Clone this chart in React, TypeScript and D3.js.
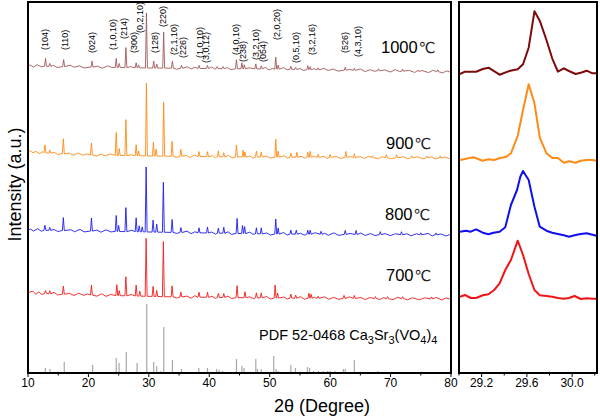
import React from "react";
import * as d3 from "d3";

// ---------- data ----------
const mainDomain = [10, 80];
const zoomDomain = [29.0, 30.22];
const mainTicks = [10, 20, 30, 40, 50, 60, 70, 80];
const mainMinor = [15, 25, 35, 45, 55, 65, 75];
const zoomTicks = [29.2, 29.6, 30.0];
const zoomMinor = [29.0, 29.4, 29.8, 30.2];

// baselines (2θ, intensity a.u.)
const base1000: [number, number][] = [[10, 307], [30, 305], [50, 304], [80, 301]];
const base900: [number, number][] = [[10, 221], [20, 218], [30, 217], [45, 216], [80, 215]];
const base800: [number, number][] = [[10, 143], [30, 141], [50, 139], [80, 138]];
const base700: [number, number][] = [[10, 80], [20, 78], [35, 76], [50, 75], [80, 74]];

// peaks (2θ, height above baseline)
const peaks1000: [number, number][] = [[12.9, 8], [13.6, 3], [15.9, 7], [20.6, 6], [24.6, 9], [25.1, 4], [26.2, 20], [27.9, 5], [28.3, 3], [29.6, 55], [30.8, 7], [31.3, 4], [32.45, 36], [33.9, 7], [35.4, 3], [38.3, 3], [39.7, 3], [41.3, 2], [42.3, 2], [44.5, 9], [45.4, 6], [45.8, 4], [47.7, 5], [48.6, 3], [51.0, 12], [51.4, 4], [53.5, 3], [54.3, 2], [56.3, 4], [56.7, 3], [58.0, 2], [62.5, 3], [64.0, 2], [68.0, 2], [72.0, 2], [74.5, 1.5], [77.8, 2]];
const peaks900: [number, number][] = [[12.8, 8], [13.6, 3], [15.85, 15], [20.5, 12], [24.6, 23], [25.1, 7], [26.2, 36], [27.9, 11], [28.3, 5], [29.6, 73], [30.75, 14], [31.2, 7], [32.45, 54], [33.85, 15], [35.3, 7], [38.3, 5], [39.7, 5], [41.5, 6], [42.4, 4], [44.5, 12], [45.6, 7], [45.9, 5], [47.8, 6], [48.6, 5], [51.0, 18], [51.4, 6], [53.5, 4], [54.5, 5], [56.3, 5], [56.7, 6], [58.0, 3], [60.0, 3], [62.6, 6], [64.0, 4], [67.0, 2], [69.3, 3], [71.0, 3], [73.5, 2], [76.0, 2], [78.2, 2]];
const peaks800: [number, number][] = [[12.8, 5], [13.6, 3], [15.85, 13], [20.5, 13], [24.6, 16], [25.0, 6], [26.2, 24], [27.9, 14], [28.4, 6], [28.9, 5], [29.55, 65], [30.7, 12], [31.3, 8], [32.4, 50], [33.85, 13], [35.3, 5], [38.3, 5], [39.7, 6], [41.5, 5], [42.4, 6], [44.6, 15], [45.5, 8], [45.85, 7], [47.8, 6], [48.6, 6], [51.0, 15], [51.4, 6], [53.5, 4], [54.4, 4], [56.3, 4], [56.7, 4], [58.5, 3], [62.5, 4], [64.3, 4], [68.3, 3], [71.8, 3], [75.0, 2], [77.5, 2]];
const peaks700: [number, number][] = [[12.9, 3], [13.6, 3], [15.85, 8], [20.5, 10], [24.7, 11], [25.1, 5], [26.2, 19], [27.9, 11], [28.5, 5], [29.55, 58], [30.7, 10], [31.3, 6], [32.4, 55], [33.85, 11], [35.3, 5], [38.3, 5], [39.7, 5], [41.5, 4], [42.4, 4], [44.6, 12], [45.9, 6], [47.8, 5], [48.6, 5], [50.9, 13], [51.3, 5], [53.5, 4], [54.3, 3], [56.5, 5], [56.85, 4], [58.0, 2], [62.3, 3], [64.0, 3], [67.5, 2], [69.5, 2], [72.0, 2], [76.8, 2]];

// small noise wiggles (2θ, deviation)
const noise1000: [number, number][] = [[10.4, 1], [10.9, -1], [11.5, 1.5], [12.2, -0.5], [14.2, 1], [14.8, -1], [17.0, 1.5], [17.6, -0.5], [18.5, 1], [19.3, -1], [21.5, 1], [22.3, -1], [23.2, 1.5], [23.8, 0], [27.0, 1], [34.6, -1], [36.4, 1.5], [37.0, -0.5], [37.6, 1], [40.4, 1.5], [40.9, -0.5], [43.0, 1], [43.6, -1], [46.6, 1], [49.3, 1.5], [49.9, -1], [50.4, 0.5], [52.3, 1.5], [52.9, -0.5], [55.0, 1], [55.6, -1], [57.3, 1], [59.0, 1.5], [59.7, -0.5], [60.5, 1], [61.3, -1], [63.2, 1], [65.0, 1.5], [65.8, -1], [66.6, 1], [67.3, -0.5], [69.0, 1], [70.0, -1], [70.8, 1.5], [71.5, -0.5], [73.0, 1], [74.0, -1], [75.2, 1], [76.3, -1], [77.0, 1.5], [78.6, -1], [79.3, 1], [79.8, 0]];
const noise900: [number, number][] = [[10.3, 1.5], [10.8, -0.5], [11.3, 1], [11.9, -1], [12.4, 1], [14.3, 1], [14.9, -1], [16.8, 1], [17.5, -1], [18.3, 1.5], [19.1, -0.5], [19.7, 1], [21.3, -1], [22.0, 1], [22.8, -0.5], [23.6, 1.5], [27.1, 1], [34.5, -1], [36.2, 1], [36.9, -1], [37.5, 1.5], [40.6, 1], [41.0, -1], [43.2, 1.5], [43.8, -1], [46.7, 1], [47.2, -1], [49.4, 1], [50.2, -1], [52.4, 1.5], [53.0, -1], [55.2, 1], [55.8, -1], [57.4, 1], [59.0, 1], [59.5, -1], [61.0, 1], [61.7, -1], [63.3, 1], [65.0, 1], [65.7, -1], [66.4, 1.5], [68.0, -1], [68.6, 1], [70.1, -1], [72.2, 1], [72.8, -1], [74.5, 1], [75.3, -1], [76.8, 1], [77.4, -1], [79.0, 1], [79.6, -0.5]];
const noise800: [number, number][] = [[10.4, 1], [10.9, -1], [11.6, 1.5], [12.2, -1], [14.3, 1], [14.9, -1], [17.1, 1], [17.7, -1], [18.6, 1.5], [19.3, -1], [21.4, 1], [22.1, -1], [22.9, 1.5], [23.7, -0.5], [27.2, 1.5], [34.6, -1], [36.3, 1.5], [37.0, -1], [37.6, 1], [40.4, 1], [41.0, -1], [43.1, 1.5], [43.7, -1], [46.7, 1.5], [47.2, -0.5], [49.5, 1], [50.1, -1], [52.3, 1.5], [52.9, -1], [55.1, 1], [55.7, -1], [57.5, 1.5], [59.1, 1], [59.7, -1], [60.6, 1.5], [61.4, -1], [63.3, 1], [65.1, 1.5], [65.8, -1], [66.7, 1], [67.4, -1], [69.1, 1], [70.0, -1], [70.8, 1], [72.7, 1], [73.4, -1], [74.3, 1], [76.2, 1.5], [76.9, -1], [78.3, 1], [79.2, -1], [79.8, 0.5]];
const noise700: [number, number][] = [[10.3, 1], [10.8, 2], [11.3, -1], [11.8, 1.5], [12.3, -1], [14.3, 1.5], [14.9, -1], [16.9, 1], [17.6, -1], [18.4, 1.5], [19.2, -0.5], [19.8, 1], [21.4, -1], [22.2, 1.5], [22.9, -1], [23.7, 1], [27.1, 1.5], [34.6, -1], [36.3, 1], [37.0, -1], [37.6, 1.5], [40.5, 1], [41.0, -1], [43.1, 1.5], [43.7, -1], [46.7, 1], [47.3, -1], [49.5, 1.5], [50.1, -1], [52.3, 1], [52.9, -1], [55.1, 1.5], [55.7, -1], [57.4, 1], [59.1, 1.5], [59.8, -1], [60.6, 1], [61.4, -1], [63.2, 1.5], [65.1, 1], [65.8, -1], [66.6, 1], [68.2, -1], [68.8, 1], [70.4, -1], [71.2, 1.5], [72.8, -1], [73.6, 1], [74.8, -1], [75.6, 1], [77.6, 1.5], [78.4, -1], [79.2, 1], [79.8, 0]];

// reference PDF 52-0468 stick pattern (2θ, relative height)
const pdfLines: [number, number][] = [[12.87, 5], [13.64, 4], [16.0, 11], [20.7, 8], [24.6, 15], [25.07, 10], [26.27, 21], [28.05, 10], [29.65, 69], [30.8, 11], [31.3, 7], [32.0, 2], [32.47, 46], [33.9, 13], [35.4, 4], [38.26, 5], [39.7, 5], [41.2, 4], [41.6, 3], [42.2, 2], [44.5, 14], [45.4, 7], [45.76, 5], [47.7, 14], [47.96, 4], [48.6, 4], [50.67, 17], [51.06, 4], [51.4, 2], [53.5, 8], [54.26, 5], [56.25, 6], [56.6, 5], [57.24, 2], [58.06, 2], [58.9, 2], [59.6, 2], [60.0, 2], [60.8, 2], [62.2, 4], [62.5, 4], [64.0, 13], [67.9, 2], [69.5, 1]];

// zoomed region 29.0–30.22°
const zoom1000: [number, number][] = [[29.009, 299], [29.053, 301.3], [29.151, 301.3], [29.21, 304], [29.261, 305.3], [29.359, 298.3], [29.453, 302.3], [29.519, 303.7], [29.566, 308.7], [29.616, 325.3], [29.667, 361.7], [29.714, 352.3], [29.773, 333], [29.824, 314.7], [29.874, 301.3], [29.927, 304.7], [29.972, 302], [30.031, 299], [30.076, 300.3], [30.129, 302.3], [30.18, 299.7], [30.224, 299.7]];
const zoom900: [number, number][] = [[29.009, 213], [29.062, 214.3], [29.127, 215.7], [29.21, 212.3], [29.261, 213.7], [29.311, 213], [29.364, 215], [29.418, 216.3], [29.459, 219.7], [29.519, 237], [29.566, 263], [29.616, 288.7], [29.667, 269.7], [29.714, 235.7], [29.773, 219.7], [29.824, 215], [29.874, 215], [29.927, 210.3], [29.972, 211.7], [30.031, 210.3], [30.076, 212.3], [30.129, 213], [30.18, 213], [30.224, 212.3]];
const zoom800: [number, number][] = [[29.009, 141.3], [29.062, 142.3], [29.104, 141.3], [29.151, 143.7], [29.21, 140.3], [29.261, 138.7], [29.305, 140.3], [29.359, 141.3], [29.409, 145.7], [29.459, 168], [29.513, 183], [29.542, 196.3], [29.566, 202], [29.616, 193], [29.667, 166.3], [29.714, 146.3], [29.773, 142.3], [29.824, 140.3], [29.874, 139], [29.927, 137.7], [29.972, 136.3], [30.031, 138], [30.076, 139], [30.129, 139.7], [30.18, 138.3], [30.224, 137]];
const zoom700: [number, number][] = [[29.009, 76.3], [29.053, 78], [29.104, 75], [29.151, 75], [29.21, 77.7], [29.261, 78.7], [29.311, 83], [29.359, 89.7], [29.409, 103], [29.459, 113], [29.519, 132.3], [29.566, 118], [29.616, 99], [29.667, 83], [29.714, 77.7], [29.773, 77], [29.824, 76.3], [29.874, 75], [29.927, 74.3], [29.972, 75], [30.022, 77], [30.076, 74], [30.129, 74.7], [30.18, 74.3], [30.224, 74.3]];

const tempLabels = ["1000℃", "900℃", "800℃", "700℃"];

// Miller index annotations on the 1000 ℃ pattern: text, 2θ, label foot (a.u.)
const hklText = ["(104)", "(110)", "(024)", "(1,0,10)", "(214)", "(300)", "(0,2,10)", "(128)", "(220)", "(2,1,10)", "(226)", "(1,0,10)", "(3,0,12)", "(4,0,10)", "(238)", "(3,2,10)", "(054)", "(2,0,20)", "(0,5,10)", "(3,2,16)", "(526)", "(4,3,10)"];
const hklAt = [12.81, 16.12, 20.54, 24.12, 25.89, 27.54, 28.53, 31.02, 32.39, 34.16, 35.7, 38.46, 39.4, 44.42, 45.66, 47.73, 48.94, 51.25, 54.35, 56.95, 62.46, 64.56];
const hklFoot = [323, 323, 320, 323, 334, 320, 340, 320, 346, 318, 315, 315, 310, 318, 311, 313, 311, 333, 310, 318, 320, 316];

// ---------- layout ----------
const W = 600, H = 417;
const FONT = "'Liberation Sans', Arial, sans-serif";
const mL = 28, mR = 451, zL = 459, zR = 597, top = 2, bottom = 373;

const xMain = d3.scaleLinear().domain(mainDomain).range([mL, mR]);
const xZoom = d3.scaleLinear().domain(zoomDomain).range([zL, zR]);
const y = d3.scaleLinear().domain([0, 371]).range([bottom, top]);

const HW = 0.16;
function pattern(base: [number, number][], peaks: [number, number][], noise: [number, number][]) {
  const level = d3.scaleLinear().domain(base.map(d => d[0])).range(base.map(d => d[1]));
  const pts: [number, number][] = [[10, level(10)], [80, level(80)]];
  noise.forEach(([d, v]) => {
    if (!peaks.some(p => Math.abs(p[0] - d) < HW + 0.08)) pts.push([d, level(d) + v]);
  });
  peaks.forEach(([d, h]) => {
    pts.push([d - HW, level(d - HW)]);
    pts.push([d, level(d) + h]);
    pts.push([d + HW, level(d + HW)]);
  });
  pts.sort((a, b) => a[0] - b[0]);
  return d3.line<[number, number]>().x(d => xMain(d[0])).y(d => y(d[1]))(pts) || "";
}
const zoomLine = d3.line<[number, number]>().x(d => xZoom(d[0])).y(d => y(d[1]));

const series = [
  { base: base1000, peaks: peaks1000, noise: noise1000, zoom: zoom1000, main: "#a2585a", zc: "#7d0a0a", lx: 381, ly: 52.5 },
  { base: base900, peaks: peaks900, noise: noise900, zoom: zoom900, main: "#ff8a14", zc: "#ff8a14", lx: 386, ly: 148.5 },
  { base: base800, peaks: peaks800, noise: noise800, zoom: zoom800, main: "#1c1cf0", zc: "#1010ee", lx: 385, ly: 220 },
  { base: base700, peaks: peaks700, noise: noise700, zoom: zoom700, main: "#f01c1c", zc: "#f01414", lx: 386, ly: 280.5 },
];

export default function App() {
  return (
    <svg width={W} height={H} style={{ position: "absolute", left: 0, top: 0, background: "#fff" }} fontFamily={FONT}>
      <defs>
        <clipPath id="cm"><rect x={mL} y={top} width={mR - mL} height={bottom - top} /></clipPath>
        <clipPath id="cz"><rect x={zL} y={top} width={zR - zL} height={bottom - top} /></clipPath>
      </defs>
      <rect width={W} height={H} fill="#fff" />

      {/* PDF sticks */}
      <g clipPath="url(#cm)">
        {pdfLines.map(([d, h], i) => (
          <line key={i} x1={xMain(d)} x2={xMain(d)} y1={y(0)} y2={y(h)} stroke="#a8a8a8" strokeWidth={1.2} />
        ))}
        {series.map((s, i) => (
          <path key={i} d={pattern(s.base, s.peaks, s.noise)} fill="none" stroke={s.main} strokeWidth={0.9} strokeLinejoin="round" />
        ))}
      </g>

      {/* zoom panel */}
      <g clipPath="url(#cz)">
        {series.map((s, i) => (
          <path key={i} d={zoomLine(s.zoom) || ""} fill="none" stroke={s.zc} strokeWidth={2} strokeLinejoin="round" />
        ))}
      </g>

      {/* frames */}
      <rect x={mL} y={top} width={mR - mL} height={bottom - top} fill="none" stroke="#000" strokeWidth={2} />
      <rect x={zL} y={top} width={zR - zL} height={bottom - top} fill="none" stroke="#000" strokeWidth={2} />

      {/* main ticks */}
      {mainTicks.map(t => (
        <g key={"t" + t}>
          <line x1={xMain(t)} x2={xMain(t)} y1={bottom} y2={bottom + 4} stroke="#000" strokeWidth={1} />
          <text x={xMain(t)} y={387} fontSize={12} textAnchor="middle">{t}</text>
        </g>
      ))}
      {mainMinor.map(t => (
        <line key={"m" + t} x1={xMain(t)} x2={xMain(t)} y1={bottom} y2={bottom + 2.5} stroke="#000" strokeWidth={1} />
      ))}
      {zoomTicks.map(t => (
        <g key={"z" + t}>
          <line x1={xZoom(t)} x2={xZoom(t)} y1={bottom} y2={bottom + 4} stroke="#000" strokeWidth={1} />
          <text x={xZoom(t)} y={387} fontSize={12} textAnchor="middle">{t.toFixed(1)}</text>
        </g>
      ))}
      {zoomMinor.map(t => (
        <line key={"zm" + t} x1={xZoom(t)} x2={xZoom(t)} y1={bottom} y2={bottom + 2.5} stroke="#000" strokeWidth={1} />
      ))}

      {/* axis titles */}
      <text x={274} y={411.5} fontSize={18}>2θ (Degree)</text>
      <text transform={`translate(21,184.5) rotate(-90)`} fontSize={18} textAnchor="middle">Intensity (a.u.)</text>

      {/* temperature labels */}
      {series.map((s, i) => {
        const num = tempLabels[i].slice(0, -1);
        const unit = tempLabels[i].slice(-1);
        return (
          <text key={"l" + i} x={s.lx} y={s.ly} fontSize={16.5}>
            {num}
            <tspan fontFamily="'DejaVu Sans', sans-serif" fontSize={15} fill="#222" dx={1}>{unit}</tspan>
          </text>
        );
      })}

      {/* PDF label */}
      <text x={259} y={340} fontSize={14.5}>
        PDF 52-0468 Ca<tspan fontSize={11} dy={4}>3</tspan>
        <tspan dy={-4}>Sr</tspan><tspan fontSize={11} dy={4}>3</tspan>
        <tspan dy={-4}>(VO</tspan><tspan fontSize={11} dy={4}>4</tspan>
        <tspan dy={-4}>)</tspan><tspan fontSize={11} dy={4}>4</tspan>
      </text>

      {/* hkl annotations */}
      {hklText.map((t, i) => (
        <text key={"h" + i} transform={`translate(${xMain(hklAt[i]) + 3},${y(hklFoot[i])}) rotate(-90)`} fontSize={9}>{t}</text>
      ))}
    </svg>
  );
}
